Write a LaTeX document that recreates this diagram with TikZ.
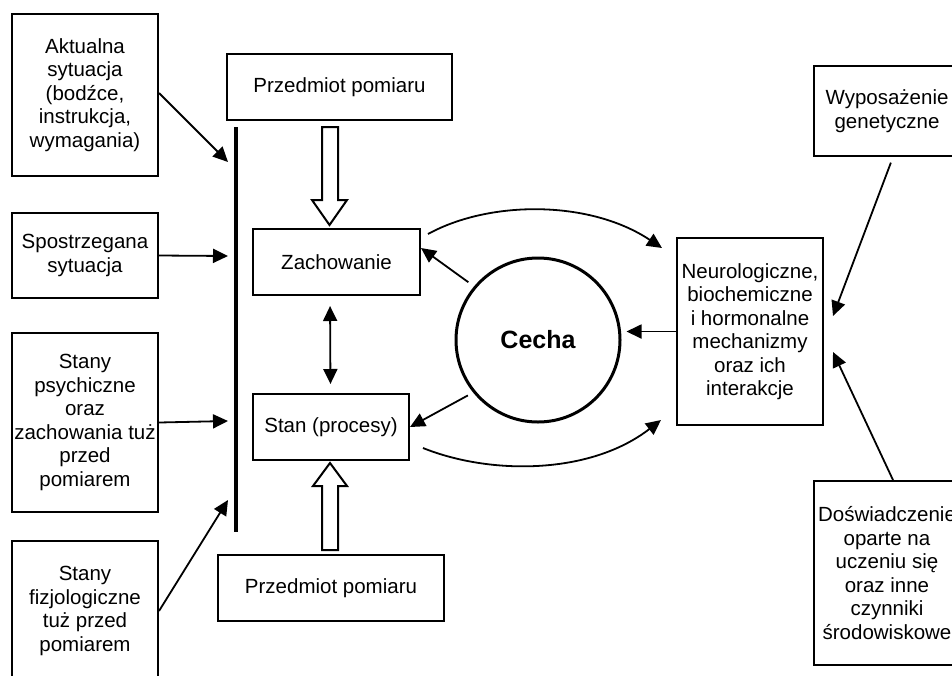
\documentclass[tikz,border=0pt]{standalone}
\usepackage{fontspec}
\setmainfont{Liberation Sans}
\usetikzlibrary{arrows.meta,calc}
\begin{document}
\begin{tikzpicture}[x=1pt,y=-1pt,
  box/.style={draw, line width=2pt, inner sep=0pt, align=center,
    font=\fontsize{20.5}{23.5}\selectfont},
  arr/.style={line width=1.8pt, -{Triangle[length=15pt,width=14pt]}},
  darr/.style={line width=1.8pt, {Triangle[length=15pt,width=14pt]}-{Triangle[length=15pt,width=14pt]}},
  blockarrow/.style={draw, line width=2pt, fill=white, line join=miter}]
\path[use as bounding box, clip] (0,0) rectangle (952,675);
\fill[white] (0,0) rectangle (952,675);
% left boxes
\node[box, minimum width=146pt, minimum height=162pt] (akt) at (85,95)
  {Aktualna\\sytuacja\\(bodźce,\\instrukcja,\\wymagania)};
\node[box, minimum width=146pt, minimum height=85pt] (spo) at (85,255.5)
  {Spostrzegana\\sytuacja};
\node[box, minimum width=146pt, minimum height=179pt] (psy) at (85,422.5)
  {Stany\\psychiczne\\oraz\\zachowania tuż\\przed\\pomiarem};
\node[box, minimum width=146pt, minimum height=140pt] (fiz) at (85,611)
  {Stany\\fizjologiczne\\tuż przed\\pomiarem};
% middle boxes
\node[box, minimum width=225pt, minimum height=66pt] (prz1) at (339.5,87) {Przedmiot pomiaru};
\node[box, minimum width=167pt, minimum height=66pt] (zach) at (336.5,262) {Zachowanie};
\node[box, minimum width=156pt, minimum height=66pt] (stan) at (331,427) {Stan (procesy)};
\node[box, minimum width=226pt, minimum height=66pt] (prz2) at (331,588) {Przedmiot pomiaru};
% circle
\node[draw, circle, line width=3pt, minimum size=164pt, inner sep=0pt,
  font=\fontsize{25}{28}\selectfont\bfseries] (cecha) at (538,340) {Cecha};
% right boxes
\node[box, minimum width=146pt, minimum height=187pt] (neuro) at (750,331.5)
  {Neurologiczne,\\biochemiczne\\i hormonalne\\mechanizmy\\oraz ich\\interakcje};
\node[box, minimum width=146pt, minimum height=90pt] (wyp) at (887,111)
  {Wyposażenie\\genetyczne};
\node[box, minimum width=146pt, minimum height=184pt] (dosw) at (887,573)
  {Doświadczenie\\oparte na\\uczeniu się\\oraz inne\\czynniki\\środowiskowe};
% thick bar
\coordinate (bt) at (236,127);
\coordinate (bb) at (236,532);
\draw[line width=4pt] (bt) -- (bb);
% arrows into bar
\coordinate (t1) at (228,162);
\coordinate (t2) at (228,256);
\coordinate (t3) at (228,421);
\coordinate (t4) at (228,500);
\draw[arr] ([yshift=2pt]akt.east) -- (t1);
\draw[arr] (spo.east) -- (t2);
\draw[arr] (psy.east) -- (t3);
\draw[arr] (fiz.east) -- (t4);
% block arrows
\draw[blockarrow] (322,127) -- (338,127) -- (338,200) -- (347,200) -- (329.5,225)
  -- (312,200) -- (322,200) -- cycle;
\draw[blockarrow] (322,550) -- (338,550) -- (338,486) -- (347,486) -- (330,463)
  -- (313,486) -- (322,486) -- cycle;
% double arrow
\draw[darr, shorten <=10pt, shorten >=9pt] (zach.south -| 330,0) -- (stan.north -| 330.5,0);
% circle to boxes
\draw[arr, shorten <=7pt] (cecha.140) -- ([yshift=14pt]zach.east);
\draw[arr, shorten <=6pt] (cecha.219) -- (stan.east);
\draw[arr, shorten >=5pt] (neuro.west) -- (cecha.east |- neuro.west);
% curves
\coordinate (c1) at (662,248);
\coordinate (c2) at (661,420);
\draw[arr] ([xshift=7pt,yshift=-6pt]zach.north east) .. controls (490,200) and (590,200) .. (c1);
\draw[arr] ([xshift=13pt,yshift=13pt]stan.south east) .. controls (490,475) and (590,475) .. (c2);
% right arrows
\coordinate (r1) at (833,316);
\coordinate (r2) at (833,352);
\draw[arr, shorten <=6pt] ([xshift=6pt]wyp.south) -- (r1);
\draw[arr] ([xshift=6pt]dosw.north) -- (r2);
\end{tikzpicture}
\end{document}
